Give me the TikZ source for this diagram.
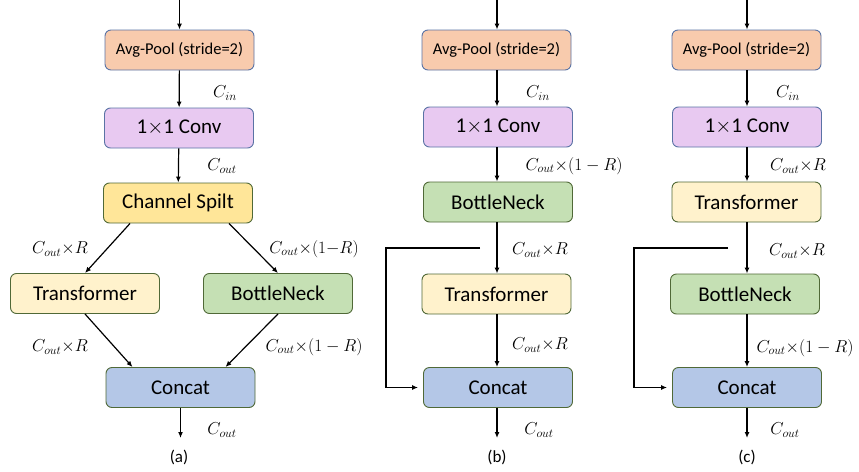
\documentclass[tikz,border=0pt]{standalone}
\usepackage{fontspec}
\setmainfont{Carlito}
\usetikzlibrary{arrows.meta,calc}
\definecolor{apfill}{HTML}{F8CBAD}
\definecolor{cvfill}{HTML}{E8C9F1}
\definecolor{csfill}{HTML}{FFE699}
\definecolor{trfill}{HTML}{FFF2CC}
\definecolor{bnfill}{HTML}{C5E0B4}
\definecolor{ccfill}{HTML}{B4C7E7}
\definecolor{bordB}{RGB}{90,115,165}
\definecolor{bordG}{RGB}{80,105,55}
\tikzset{
  box/.style={rectangle, rounded corners=6pt, minimum width=149pt, minimum height=40pt, line width=0.9pt, inner sep=0pt, font=\fontsize{21}{25}\selectfont},
  apbox/.style={box, fill=apfill, draw=bordB, font=\fontsize{16.5}{20}\selectfont},
  cvbox/.style={box, fill=cvfill, draw=bordB},
  csbox/.style={box, fill=csfill, draw=bordG},
  trbox/.style={box, fill=trfill, draw=bordG},
  bnbox/.style={box, fill=bnfill, draw=bordG},
  ccbox/.style={box, fill=ccfill, draw=bordG},
  arr/.style={line width=1.2pt, -{Latex[length=6pt,width=5pt]}},
  lab/.style={font=\fontsize{18.5}{22}\selectfont, inner sep=0pt},
  captxt/.style={font=\fontsize{17}{20}\selectfont, inner sep=0pt}
}
\begin{document}
\begin{tikzpicture}[x=1pt,y=-1pt]
\useasboundingbox (0,0) rectangle (859,471);
% ---------- (a)
\node[apbox] (aap) at (179.5,50) {Avg-Pool (stride=2)};
\node[cvbox] (acv) at (179,128) {1$\times$1 Conv};
\node[csbox] (acs) at (178,203) {Channel Spilt};
\node[trbox] (atr) at (85,293.5) {Transformer};
\node[bnbox] (abn) at (278,293.5) {BottleNeck};
\node[ccbox] (acc) at (180.5,387.5) {Concat};
\coordinate (ain) at (179.5,0);
\coordinate (aout) at (180.5,438);
\draw[arr] (ain) -- (aap);
\draw[arr] (aap) -- (acv);
\draw[arr] (acv) -- (acs);
\draw[arr] ($(acs.south west)!0.18!(acs.south east)$) -- (atr.north);
\draw[arr] ($(acs.south west)!0.84!(acs.south east)$) -- (abn.north);
\draw[arr] (atr.south) -- ($(acc.north west)!0.18!(acc.north east)$);
\draw[arr] (abn.south) -- ($(acc.north west)!0.80!(acc.north east)$);
\draw[arr] (acc) -- (aout);
\node[lab] (al1) at (225,93) {$C_{in}$};
\node[lab] (al2) at (222,166) {$C_{out}$};
\node[lab] (al3) at (60,249) {$C_{out}{\times}R$};
\node[lab] (al4) at (314,249) {$C_{out}{\times}(1{-}R)$};
\node[lab] (al5) at (60,347) {$C_{out}{\times}R$};
\node[lab] (al6) at (314,347) {$C_{out}{\times}(1-R)$};
\node[lab] (al7) at (222,430) {$C_{out}$};
\node[captxt] (acap) at (179,457) {(a)};
% ---------- (b)
\node[apbox] (bap) at (496.5,50) {Avg-Pool (stride=2)};
\node[cvbox] (bcv) at (498,127) {1$\times$1 Conv};
\node[bnbox] (bbn) at (498,202) {BottleNeck};
\node[trbox] (btr) at (496.5,294) {Transformer};
\node[ccbox] (bcc) at (498,387.5) {Concat};
\coordinate (bin) at (497,0);
\coordinate (bout) at (497,438);
\coordinate (bs) at (480,248);
\coordinate (bc) at (386,248);
\draw[arr] (bin) -- (bin |- bap.north);
\draw[arr] (bap.south -| bin) -- (bin |- bcv.north);
\draw[arr] (bcv.south -| bin) -- (bin |- bbn.north);
\draw[arr] (bbn.south -| bin) -- (bin |- btr.north);
\draw[arr] (btr.south -| bin) -- (bin |- bcc.north);
\draw[arr] (bcc.south -| bin) -- (bout);
\draw[arr, shorten >=5pt] (bs) -- (bc) |- (bcc.west);
\node[lab] (bl1) at (538,93) {$C_{in}$};
\node[lab] (bl2) at (574,166) {$C_{out}{\times}(1-R)$};
\node[lab] (bl3) at (540,250) {$C_{out}{\times}R$};
\node[lab] (bl4) at (540,345) {$C_{out}{\times}R$};
\node[lab] (bl5) at (539,430) {$C_{out}$};
\node[captxt] (bcap) at (497,457) {(b)};
% ---------- (c)
\node[apbox] (cavg) at (746.5,50) {Avg-Pool (stride=2)};
\node[cvbox] (ccv) at (747,127) {1$\times$1 Conv};
\node[trbox] (ctr) at (746.5,202) {Transformer};
\node[bnbox] (cbn) at (745,294) {BottleNeck};
\node[ccbox] (ccc) at (747,387.5) {Concat};
\coordinate (cin) at (747,0);
\coordinate (cout) at (747,438);
\coordinate (cbs) at (728,248);
\coordinate (cbc) at (634,248);
\draw[arr] (cin) -- (cin |- cavg.north);
\draw[arr] (cavg.south -| cin) -- (cin |- ccv.north);
\draw[arr] (ccv.south -| cin) -- (cin |- ctr.north);
\draw[arr] (ctr.south -| cin) -- (cin |- cbn.north);
\draw[arr] (cbn.south -| cin) -- (cin |- ccc.north);
\draw[arr] (ccc.south -| cin) -- (cout);
\draw[arr, shorten >=5pt] (cbs) -- (cbc) |- (ccc.west);
\node[lab] (cl1) at (788,93) {$C_{in}$};
\node[lab] (cl2) at (798,166) {$C_{out}{\times}R$};
\node[lab] (cl3) at (797,251) {$C_{out}{\times}R$};
\node[lab] (cl4) at (805,348) {$C_{out}{\times}(1-R)$};
\node[lab] (cl5) at (785,430) {$C_{out}$};
\node[captxt] (ccap) at (747,457) {(c)};
\end{tikzpicture}
\end{document}
